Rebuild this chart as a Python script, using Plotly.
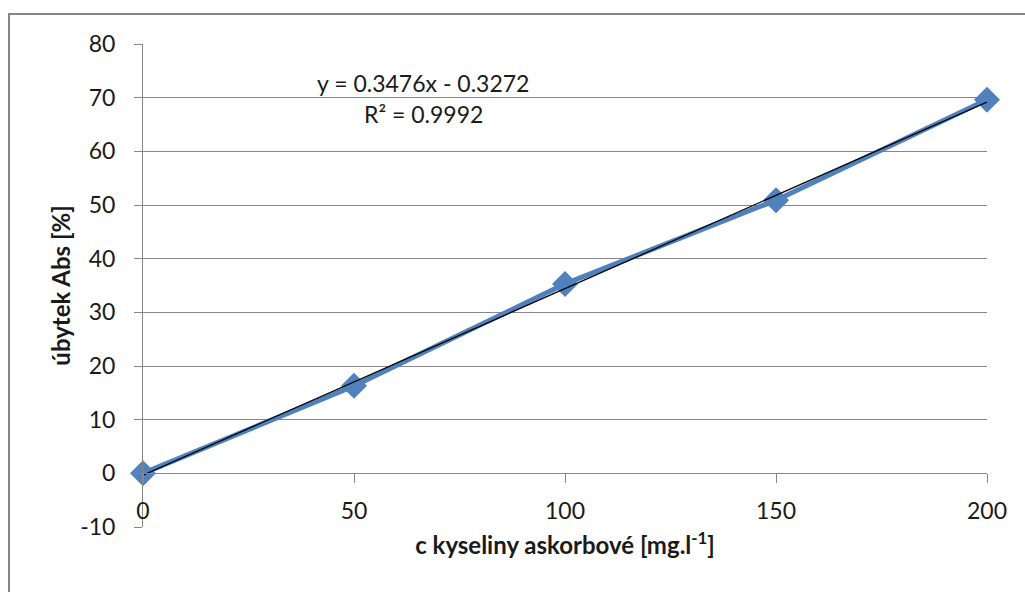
import numpy as np
import plotly.graph_objects as go

conc = [0, 50, 100, 150, 200]
decrease = [0.0, 16.3, 35.3, 50.9, 69.6]
x_ticks = [0, 50, 100, 150, 200]
y_ticks = [-10, 0, 10, 20, 30, 40, 50, 60, 70, 80]
y_tick_labels = ["-10", "0", "10", "20", "30", "40", "50", "60", "70", "80"]
eq_text = "y = 0.3476x - 0.3272"
r2_text = "R² = 0.9992"
x_title = "c kyseliny askorbové [mg.l<sup>-1</sup>]"
y_title = "úbytek Abs [%]"

slope, intercept = np.polyfit(conc, decrease, 1)
trend_x = [min(conc), max(conc)]
trend_y = [slope * v + intercept for v in trend_x]

FONT = "Lato"
GRID = "#878787"
TXT = "#1a1a1a"
W, H = 1025, 592
L, R, T, B = 143, 38, 44, 65
pw, ph = W - L - R, H - T - B

def px(x):
    return (x - L) / pw

def py(y):
    return (H - B - y) / ph

fig = go.Figure()
fig.add_trace(go.Scatter(
    x=conc, y=decrease, mode="lines+markers",
    line=dict(color="#4F81BD", width=5),
    marker=dict(symbol="diamond", size=20, color="#4F81BD"),
    showlegend=False, cliponaxis=False))
fig.add_trace(go.Scatter(
    x=trend_x, y=trend_y, mode="lines",
    line=dict(color="black", width=1.3),
    showlegend=False, cliponaxis=False))

ymin, ymax = -10, 80
fig.update_layout(
    width=W, height=H,
    margin=dict(l=L, r=R, t=T, b=B, autoexpand=False),
    paper_bgcolor="white", plot_bgcolor="white",
    font=dict(family=FONT, size=23, color=TXT),
    xaxis=dict(
        range=[0, 200], tickvals=x_ticks,
        showgrid=False, zeroline=False,
        showline=True, linecolor=GRID, linewidth=1,
        ticks="outside", ticklen=9, tickcolor=GRID, ticklabelstandoff=8,
        anchor="free", position=(0 - ymin) / (ymax - ymin),
        tickfont=dict(size=23, color=TXT),
        title=dict(text=x_title, font=dict(size=24, family=FONT, weight="bold", color=TXT), standoff=14),
        automargin=False,
    ),
    yaxis=dict(
        range=[ymin, ymax], tickvals=y_ticks, ticktext=y_tick_labels,
        showgrid=True, gridcolor=GRID, gridwidth=1,
        zeroline=False, showline=True, linecolor=GRID, linewidth=1,
        ticks="outside", ticklen=8, tickcolor=GRID, ticklabelstandoff=14,
        tickfont=dict(size=23, color=TXT),
        title=dict(text=y_title, font=dict(size=24, family=FONT, weight="bold", color=TXT), standoff=2),
        automargin=False,
    ),
    shapes=[dict(type="rect", xref="paper", yref="paper",
                 x0=px(9), x1=px(1035), y0=py(600), y1=py(14),
                 line=dict(color="#868686", width=2), layer="below")],
    annotations=[
        dict(text=eq_text, x=px(423), y=py(83), xref="paper", yref="paper",
             xanchor="center", yanchor="middle",
             showarrow=False, font=dict(size=23, family=FONT, color=TXT)),
        dict(text=r2_text, x=px(423), y=py(114), xref="paper", yref="paper",
             xanchor="center", yanchor="middle",
             showarrow=False, font=dict(size=23, family=FONT, color=TXT)),
    ],
)

fig.write_html("out.html")
